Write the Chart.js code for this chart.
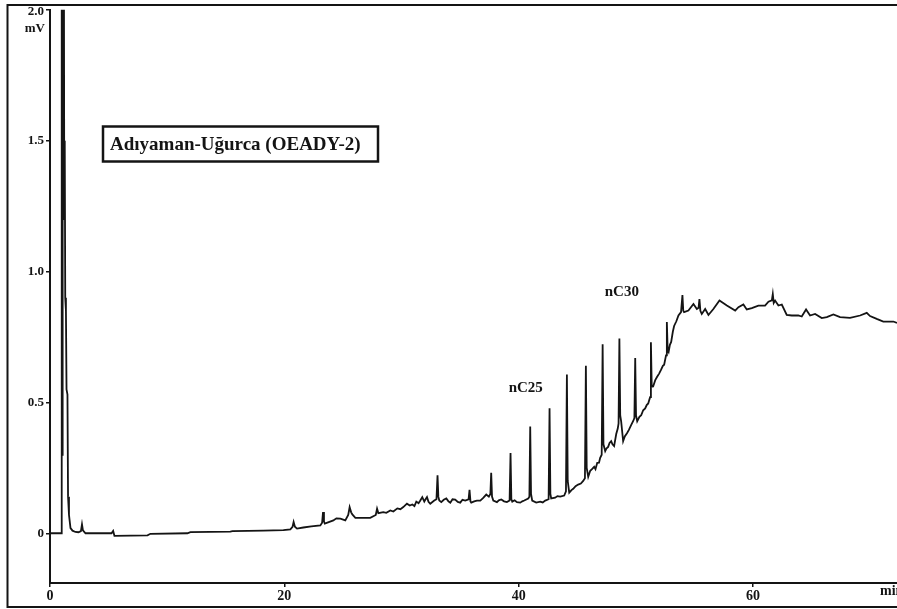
<!DOCTYPE html>
<html>
<head>
<meta charset="utf-8">
<title>Adıyaman-Uğurca (OEADY-2)</title>
<script src="https://cdn.jsdelivr.net/npm/chart.js@4.4.1/dist/chart.umd.min.js"></script>
<style>
  html, body { margin: 0; padding: 0; background: #fff; }
  #wrap { width: 897px; height: 609px; position: relative; }
</style>
</head>
<body>
<div id="wrap"><canvas id="gc"></canvas></div>
<script>
// Retention time (min) and detector response (mV) of the gas chromatogram trace
const timeMin = [
  0, 0.96, 1.00, 1.04, 1.08, 1.13, 1.17, 1.21, 1.26, 1.30, 1.36, 1.41, 1.49, 1.54,
  1.62, 1.75, 1.92, 2.17, 2.43, 2.64, 2.73, 2.81, 3.03, 4.99, 5.25, 5.39, 5.50,
  8.32, 8.57, 11.73, 11.98, 15.39, 15.57, 18.21, 19.92,
  20.51, 20.70, 20.79, 20.90, 21.08, 21.62, 22.30, 23.07, 23.22, 23.30, 23.38, 23.45,
  24.18, 24.44, 24.78, 25.20, 25.45, 25.57, 25.70, 25.80, 26.06, 27.33, 27.80, 27.91,
  28.02, 28.44, 28.70, 29.04, 29.30, 29.64, 29.90, 30.15, 30.46, 30.70, 30.92, 31.10,
  31.26, 31.45, 31.60, 31.77, 31.94, 32.05, 32.17, 32.30, 32.45, 32.79, 32.98, 33.07,
  33.14, 33.22, 33.39, 33.60, 33.82, 34.00, 34.16, 34.35, 34.58, 34.80, 35.01, 35.20,
  35.44, 35.72, 35.80, 35.88, 35.95, 36.20, 36.43, 36.72, 36.97, 37.23, 37.45, 37.58,
  37.65, 37.72, 37.83, 38.14, 38.30, 38.51, 38.75, 38.99, 39.22, 39.30, 39.37, 39.45,
  39.65, 39.85, 40.13, 40.30, 40.47, 40.81, 40.91, 40.98, 41.05, 41.15, 41.49, 41.83,
  42.05, 42.26, 42.55, 42.63, 42.70, 42.77, 43.11, 43.30, 43.54, 43.88, 44.03, 44.11,
  44.18, 44.31, 44.50, 44.65, 44.85, 45.07, 45.30, 45.50, 45.65, 45.73, 45.80, 45.93,
  46.10, 46.25, 46.44, 46.55, 46.70, 46.85, 46.95, 47.08, 47.16, 47.23, 47.38, 47.50,
  47.63, 47.75, 47.89, 48.00, 48.14, 48.32, 48.45, 48.52, 48.59, 48.66, 48.74, 48.91,
  49.05, 49.25, 49.40, 49.59, 49.76, 49.87, 49.94, 50.01, 50.11, 50.30, 50.45, 50.62,
  50.79, 50.92, 51.05, 51.21, 51.28, 51.35, 51.47, 51.65, 51.81, 51.98, 52.15, 52.30,
  52.41, 52.57, 52.64, 52.71, 52.79, 52.90, 53.01, 53.15, 53.26, 53.45, 53.63, 53.85,
  53.97, 54.04, 54.11, 54.48, 54.91, 55.20, 55.35, 55.42, 55.50, 55.62, 55.91, 56.19,
  56.61, 57.13, 57.76, 58.47, 58.75, 59.17, 59.46, 59.89, 60.45, 61.02, 61.31, 61.60,
  61.68, 61.76, 61.88, 62.16, 62.45, 62.87, 63.30, 63.86, 64.15, 64.52, 64.86, 65.29,
  65.86, 66.29, 66.85, 67.42, 68.27, 69.13, 69.70, 69.98, 70.55, 71.11, 71.97, 72.28
];
const signalMv = [
  0, 0, 2.7, 0.30, 2.7, 1.20, 2.7, 1.50, 1.48, 0.90, 0.85, 0.55, 0.53, 0.14,
  0.07, 0.02, 0.010, 0.005, 0.004, 0.008, 0.034, 0.011, 0, 0, 0, 0.009, -0.010,
  -0.008, -0.002, 0, 0.004, 0.006, 0.008, 0.010, 0.012,
  0.015, 0.025, 0.043, 0.025, 0.018, 0.022, 0.026, 0.030, 0.040, 0.081, 0.045, 0.037,
  0.049, 0.057, 0.056, 0.049, 0.070, 0.100, 0.080, 0.072, 0.059, 0.059, 0.070, 0.094,
  0.077, 0.081, 0.078, 0.087, 0.083, 0.095, 0.092, 0.100, 0.113, 0.106, 0.110, 0.104,
  0.121, 0.115, 0.125, 0.138, 0.121, 0.130, 0.138, 0.120, 0.113, 0.125, 0.130, 0.222,
  0.140, 0.125, 0.119, 0.128, 0.133, 0.122, 0.117, 0.130, 0.129, 0.120, 0.117, 0.128,
  0.125, 0.130, 0.166, 0.122, 0.117, 0.122, 0.125, 0.125, 0.135, 0.148, 0.140, 0.150,
  0.231, 0.140, 0.125, 0.119, 0.126, 0.129, 0.122, 0.119, 0.125, 0.307, 0.130, 0.121,
  0.126, 0.119, 0.117, 0.122, 0.125, 0.133, 0.140, 0.408, 0.150, 0.125, 0.117, 0.121,
  0.118, 0.125, 0.130, 0.478, 0.150, 0.133, 0.136, 0.142, 0.140, 0.144, 0.160, 0.607,
  0.200, 0.155, 0.165, 0.170, 0.180, 0.186, 0.190, 0.200, 0.210, 0.640, 0.250, 0.216,
  0.239, 0.245, 0.254, 0.245, 0.269, 0.270, 0.288, 0.300, 0.722, 0.340, 0.314, 0.325,
  0.330, 0.345, 0.352, 0.340, 0.333, 0.379, 0.400, 0.420, 0.744, 0.450, 0.428, 0.352,
  0.370, 0.383, 0.395, 0.413, 0.428, 0.440, 0.670, 0.450, 0.428, 0.445, 0.451, 0.470,
  0.477, 0.490, 0.496, 0.520, 0.730, 0.560, 0.561, 0.585, 0.598, 0.610, 0.625, 0.640,
  0.644, 0.680, 0.807, 0.700, 0.693, 0.720, 0.731, 0.770, 0.792, 0.810, 0.832, 0.845,
  0.910, 0.850, 0.845, 0.851, 0.876, 0.857, 0.862, 0.895, 0.850, 0.838, 0.857, 0.834,
  0.857, 0.889, 0.870, 0.851, 0.864, 0.874, 0.855, 0.860, 0.870, 0.870, 0.885, 0.890,
  0.914, 0.880, 0.889, 0.870, 0.874, 0.834, 0.832, 0.832, 0.828, 0.855, 0.832, 0.838,
  0.822, 0.826, 0.836, 0.826, 0.823, 0.832, 0.842, 0.830, 0.819, 0.809, 0.809, 0.804
];

// Axis ticks
const xTicks = [0, 20, 40, 60];
const yTicks = [0, 0.5, 1.0, 1.5, 2.0];

// Text drawn on the chart
const sampleName = 'Adıyaman-Uğurca (OEADY-2)';
const peakNames = ['nC25', 'nC30'];
const xUnit = 'min';
const yUnit = 'mV';

const serif = '"Liberation Serif", "Times New Roman", serif';
const ink = '#141414';

// Outer frame, sample box, peak names and axis units
const decorations = {
  id: 'decorations',
  afterDraw(chart) {
    const { ctx, scales: { x, y } } = chart;
    ctx.save();
    ctx.strokeStyle = ink;
    ctx.fillStyle = ink;

    ctx.lineWidth = 2;
    ctx.strokeRect(7.5, 5, 900, 602);

    ctx.lineWidth = 2.5;
    ctx.strokeRect(103, 126.5, 275, 35);
    ctx.font = 'bold 19px ' + serif;
    ctx.textAlign = 'left';
    ctx.textBaseline = 'middle';
    ctx.fillText(sampleName, 110, 145);

    ctx.font = 'bold 15px ' + serif;
    ctx.textAlign = 'center';
    ctx.fillText(peakNames[0], x.getPixelForValue(40.6), y.getPixelForValue(0.555));
    ctx.fillText(peakNames[1], x.getPixelForValue(48.8), y.getPixelForValue(0.92));

    ctx.font = 'bold 13px ' + serif;
    ctx.textAlign = 'right';
    ctx.fillText(yTicks[4].toFixed(1), 44, 12);
    ctx.fillText(yUnit, 45, 29);

    ctx.font = 'bold 14px ' + serif;
    ctx.textAlign = 'left';
    ctx.fillText(xUnit, 880, 591);
    ctx.restore();
  }
};

const tickFont = (size) => ({ family: serif, size: size, weight: 'bold' });

new Chart(document.getElementById('gc'), {
  type: 'line',
  data: {
    datasets: [{
      data: timeMin.map((t, i) => ({ x: t, y: signalMv[i] })),
      borderColor: ink,
      borderWidth: 1.8,
      pointRadius: 0,
      fill: false,
      tension: 0
    }]
  },
  options: {
    responsive: true,
    maintainAspectRatio: false,
    animation: false,
    events: [],
    layout: { padding: { top: 5, left: 0, right: 0, bottom: 0 } },
    plugins: { legend: { display: false }, tooltip: { enabled: false } },
    scales: {
      x: {
        type: 'linear',
        min: 0,
        max: 72.28,
        afterFit(s) { s.height = 26; },
        afterBuildTicks(s) { s.ticks = xTicks.map(v => ({ value: v })); },
        ticks: {
          autoSkip: false, maxRotation: 0, padding: 1, color: ink,
          font: tickFont(14),
          callback: (v) => String(v)
        },
        grid: { drawOnChartArea: false, drawTicks: true, tickLength: 4, color: ink, lineWidth: 1.5 },
        border: { display: true, color: ink, width: 2 }
      },
      y: {
        type: 'linear',
        min: -0.19,
        max: 2.0,
        afterFit(s) { s.width = 50; },
        afterBuildTicks(s) { s.ticks = yTicks.map(v => ({ value: v })); },
        ticks: {
          autoSkip: false, padding: 2, color: ink,
          font: tickFont(13),
          callback: (v) => v === 0 ? '0' : (v >= 2 ? '' : v.toFixed(1))
        },
        grid: { drawOnChartArea: false, drawTicks: true, tickLength: 4, color: ink, lineWidth: 1.5 },
        border: { display: true, color: ink, width: 2 }
      }
    }
  },
  plugins: [decorations]
});
</script>
</body>
</html>
